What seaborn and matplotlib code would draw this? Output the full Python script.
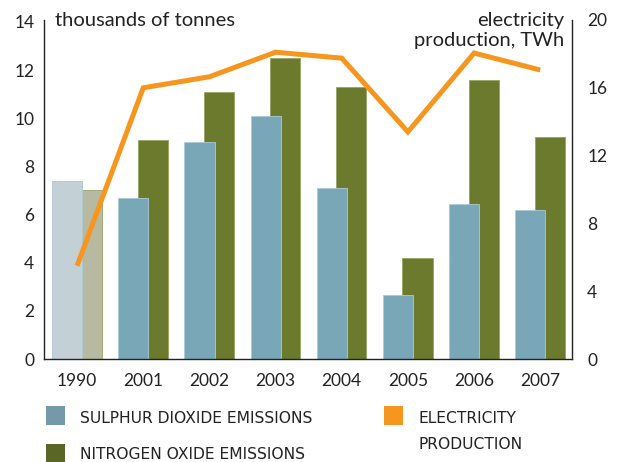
import numpy as np
import pandas as pd
import seaborn as sns
import matplotlib.pyplot as plt
from matplotlib.patches import Rectangle

# data
years = ['1990', '2001', '2002', '2003', '2004', '2005', '2006', '2007']
so2 = [7.4, 6.7, 9.0, 10.1, 7.1, 2.65, 6.43, 6.2]        # thousands of tonnes
nox = [7.0, 9.1, 11.1, 12.5, 11.3, 4.2, 11.6, 9.2]        # thousands of tonnes
electricity = [5.5, 16.0, 16.65, 18.1, 17.75, 13.4, 18.05, 17.05]  # TWh

so2_color = '#7aa7b8'
nox_color = '#6b7a2c'
so2_old = '#c3d0d6'
nox_old = '#b7baa0'
orange = '#f7961e'
ink = '#222222'

sns.set_style('white')
plt.rcParams['font.family'] = ['Lato', 'DejaVu Sans']

pos = np.arange(len(years))
df = pd.DataFrame({'year': years, 'pos': pos, 'so2': so2, 'nox': nox, 'elec': electricity})
df['so2_x'] = df['pos'] - 0.15
df['nox_x'] = df['pos'] + 0.145

fig = plt.figure(figsize=(6.19, 4.62), dpi=100)
ax = fig.add_axes([44 / 619, 103 / 462, 528 / 619, 339 / 462])

# nitrogen bars behind, sulphur bars in front
sns.barplot(data=df, x='nox_x', y='nox', hue='year', palette=[nox_old] + [nox_color] * 7,
            native_scale=True, width=0.454, dodge=False, errorbar=None, legend=False,
            saturation=1, edgecolor='#98a365', linewidth=0.6, ax=ax)
sns.barplot(data=df, x='so2_x', y='so2', hue='year', palette=[so2_old] + [so2_color] * 7,
            native_scale=True, width=0.454, dodge=False, errorbar=None, legend=False,
            saturation=1, edgecolor='#a9cbd6', linewidth=0.6, ax=ax)

ax.set_xlim(-0.5, 7.48)
ax.set_ylim(0, 14.08)
ax.set_xticks(pos, years)
ax.set_yticks(range(0, 15, 2))
ax.set_xlabel('')
ax.set_ylabel('')
ax.tick_params(axis='x', length=0, pad=10, labelsize=12.5, labelcolor=ink)
ax.tick_params(axis='y', length=0, pad=7, labelsize=12.5, labelcolor=ink)
for s in ['top', 'right']:
    ax.spines[s].set_visible(False)
for s in ['left', 'bottom']:
    ax.spines[s].set_color(ink)
    ax.spines[s].set_linewidth(1.0)

ax2 = ax.twinx()
sns.lineplot(data=df, x='pos', y='elec', color=orange, linewidth=3.6, ax=ax2)
for ln in ax2.get_lines():
    ln.set_solid_joinstyle('miter')
    ln.set_solid_capstyle('butt')
ax2.set_ylim(0, 20)
ax2.set_yticks(range(0, 21, 4))
ax2.set_ylabel('')
ax2.tick_params(axis='y', length=0, pad=11, labelsize=12.5, labelcolor=ink)
for s in ['top', 'left', 'bottom']:
    ax2.spines[s].set_visible(False)
ax2.spines['right'].set_color(ink)
ax2.spines['right'].set_linewidth(1.0)

# axis titles
fig.text(55 / 619, 1 - 26 / 462, 'thousands of tonnes', ha='left', va='baseline',
         fontsize=14.5, color=ink)
fig.text(564 / 619, 1 - 26 / 462, 'electricity', ha='right', va='baseline',
         fontsize=14.5, color=ink)
fig.text(564 / 619, 1 - 46 / 462, 'production, TWh', ha='right', va='baseline',
         fontsize=14.5, color=ink)

# legend
legend_font = dict(fontsize=11.2, color=ink, family='DejaVu Sans')
legend_items = [
    ('#7499a8', 'SULPHUR DIOXIDE EMISSIONS', 46, 406, 423),
    ('#5a6626', 'NITROGEN OXIDE EMISSIONS', 46, 444, 459),
    (orange, 'ELECTRICITY', 384, 406, 423),
]
for col, label, px, py, base in legend_items:
    fig.add_artist(Rectangle((px / 619, 1 - (py + 19) / 462), 19 / 619, 19 / 462,
                             transform=fig.transFigure, facecolor=col, edgecolor='none'))
    fig.text((px + 34) / 619, 1 - base / 462, label, ha='left', va='baseline', **legend_font)
fig.text(418 / 619, 1 - 449 / 462, 'PRODUCTION', ha='left', va='baseline', **legend_font)

fig.savefig('out.png', dpi=100)
